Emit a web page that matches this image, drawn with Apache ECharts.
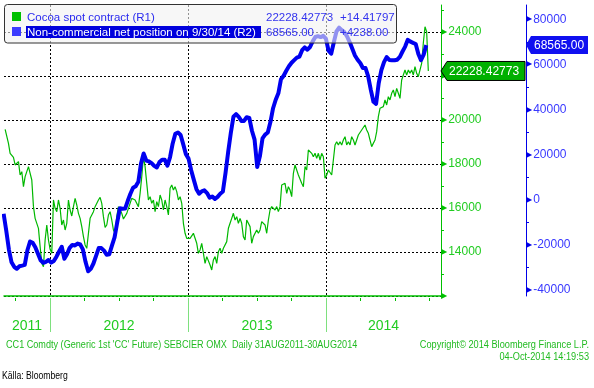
<!DOCTYPE html>
<html><head><meta charset="utf-8">
<script src="https://cdn.jsdelivr.net/npm/echarts@6/dist/echarts.min.js"></script>
<style>html,body{margin:0;padding:0;background:#fff}#c{width:594px;height:388px}</style>
</head><body><div id="c"></div>
<script>
// ---------- DATA ----------
const cocoaName = 'Cocoa spot contract (R1)';
const netName = 'Non-commercial net position on 9/30/14 (R2)';
const cocoaStart = '2011-09-03';
const cocoaStepDays = 4.415;
const cocoaValues = [
 19576, 19545, 18940, 18485, 18409, 18303, 17955, 18030, 18106, 17500,
 17652, 16970, 17424, 17652, 17879, 17955, 17273, 16061, 15531, 15531,
 15076, 14243, 13485, 13334, 14546, 15228, 14546, 14122, 13940, 16364,
 15985, 15834, 16364, 15985, 15228, 15455, 15000, 15303, 16364, 15909,
 15637, 16061, 16440, 16137, 15758, 15531, 15152, 14697, 14319, 14167,
 14849, 15531, 15531, 15834, 16061, 16061, 16364, 16485, 16212, 15607,
 15122, 15228, 15682, 15834, 15455, 15000, 14849, 15607, 16061, 16031,
 15758, 15500, 15576, 15758, 15985, 16212, 16440, 16515, 16364, 16288,
 16061, 16667, 17424, 18334, 17879, 17121, 16364, 16515, 16212, 16364,
 15834, 16288, 16061, 16591, 16364, 15909, 16364, 16061, 15682, 16894,
 17046, 16818, 16970, 16743, 16364,
 16516, 16213, 15304, 14850, 14622, 14547, 14622, 14698, 14850, 14925,
 14395, 13940, 14092, 14395, 13940, 13486, 13789, 13789, 13410, 13183,
 13638, 13789, 13486, 14016, 14168, 13940, 14168, 14092, 14471, 15077,
 15304, 15531, 15759, 15455, 15607, 15304, 15531, 15304, 14698, 14547,
 15455, 15531, 15153, 14395, 14698, 14774, 15001, 14850, 15001, 15380,
 15380, 15228, 14850, 15455, 15910, 16062, 16137, 15910, 16062, 15834,
 16062, 17046, 16970, 17122, 16667, 16970, 16819, 16516, 17577, 17955,
 17880, 17501, 17577, 17122, 16970, 17880, 17728, 18637, 18713, 18486,
 18334, 18486, 18258, 18486, 18182, 18486, 18334, 17349, 17501, 17728,
 17804, 17501, 18182, 18864, 19016, 18864, 19016, 18864, 19091, 19243,
 18864, 19016, 18864, 19243, 19091, 18864, 19091, 19319, 19395, 19546,
 19622, 19774, 19546, 19395, 19091, 18789, 18713, 19091, 19470, 20152,
 20531, 20607, 20607, 20910, 20683, 21061, 20910, 21213, 21364, 21061,
 21440, 21213, 20985, 21818, 22046, 22273, 22046, 22273, 22122, 22273,
 22046, 22425, 22122, 21970, 21970, 22570, 23500, 24241, 24014, 22228.42773
];
const netStart = '2011-08-30';
const netStepDays = 7;
const netValues = [
 -6209, -13749, -22086, -27719, -29715, -30602, -29493, -29182, -28828, -22397,
 -18494, -19071, -21022, -23949, -26832, -27941, -27497, -26699, -27852, -27142,
 -25236, -22929, -20845, -26167, -24171, -21288, -20002, -20268, -19425, -19824,
 -21998, -27497, -31666, -30602, -28251, -24836, -21421, -21421, -22530, -24393,
 -24171, -20312, -16676, -10067, -3770, -3947, -3903, -444, 2661, 5322,
 5987, 7983, 16099, 20534, 17385, 16986, 16232, 15035, 14325, 16720,
 17740, 17740, 15079, 18849, 24969, 29271, 29848, 28739, 24570, 20179,
 18228, 13128, 8826, 4701, 2661, 3725, 4213, 2971, 887, 1464,
 355, 1286, 2661, 3637, 11841, 21199, 29581, 36811, 37964, 36722,
 34948, 34948, 36589, 36278, 30602, 26654, 14500, 19248, 27187, 28872,
 29803, 34460, 40580, 44350, 47188, 53442, 54994, 57212, 59163, 60760,
 61913, 63022, 63465, 66303, 67545, 66525, 67722, 70206, 72158, 72513,
 72113, 72646, 71404, 66082, 64751, 69851, 74597, 76282, 75173, 74286,
 72424, 69896, 66969, 63953, 62090, 60627, 58409, 58409, 54684, 48696,
 43463, 42532, 51757, 57478, 61026, 63244, 62002, 61869, 61825, 62090,
 63376, 65727, 67900, 70916, 70073, 69541, 69053, 64618, 61869, 64327,
 68565
];
const cocoaLast = '22228.42773', cocoaChange = '+14.41797';
const netLast = '68565.00', netChange = '+4238.00';
const axisMinDate = '2011-08-31', axisMaxDate = '2014-11-01';
const cocoaAxis = {min: 12000, max: 25227, tick: 1000, label: 2000, labelMax: 24000};
const netAxis = {min: -40000, max: 80000, tick: 20000};
const footerLeft = "CC1 Comdty (Generic 1st 'CC' Future) SEBCIER OMX  Daily 31AUG2011-30AUG2014";
const footerRight1 = 'Copyright\u00A9 2014 Bloomberg Finance L.P.';
const footerRight2 = '04-Oct-2014 14:19:53';
const sourceText = 'K\u00E4lla: Bloomberg';

// ---------- BUILD ----------
const DAY = 86400000;
function ts(s){ const p = s.split('-').map(Number); return Date.UTC(p[0], p[1]-1, p[2]); }
const cocoaData = cocoaValues.map((v,i)=>[ts(cocoaStart) + i*cocoaStepDays*DAY, v]);
const netData = netValues.map((v,i)=>[ts(netStart) + i*netStepDays*DAY, v]);
const xMin = ts(axisMinDate), xMax = ts(axisMaxDate);
const months = [], monthTs = [];
{ let y = new Date(xMin).getUTCFullYear(), m = new Date(xMin).getUTCMonth() + 1;
  if (m > 11) { m = 0; y++; }
  while (Date.UTC(y, m, 1) <= xMax) { months.push(y + '-' + String(m+1).padStart(2,'0')); monthTs.push(Date.UTC(y,m,1)); m++; if (m > 11) { m = 0; y++; } } }
const labelIdx = [];
for (let y = new Date(xMin).getUTCFullYear(); y <= new Date(xMax).getUTCFullYear(); y++) {
  const s = Math.max(Date.UTC(y,0,1), xMin), e = Math.min(Date.UTC(y+1,0,1), xMax);
  const mid = (s+e)/2; let best = 0;
  monthTs.forEach((t,i)=>{ if (Math.abs(t-mid) < Math.abs(monthTs[best]-mid)) best = i; });
  labelIdx.push(best);
}
const isQuarter = (i, v) => (Number(v.slice(5)) - 1) % 3 === 0;
const isJan = (i, v) => v.slice(5) === '01';

const GREEN = '#00c000', GREEN_TXT = '#22cc22', BLUE = '#0000e8', BLUE_TXT = '#3838ff';
const FONT = '"Liberation Sans", Arial, sans-serif';
const OFFSET_BLUE = 85;

const chart = echarts.init(document.getElementById('c'), null, {renderer: 'canvas'});
const option = {
  animation: false,
  backgroundColor: '#fff',
  textStyle: {fontFamily: FONT},
  grid: [
    {left: 4, top: 5, width: 437, height: 291, containLabel: false, outerBoundsMode: 'none'},
    {left: 4, top: 19.3, width: 437, height: 270.7, containLabel: false, outerBoundsMode: 'none'}
  ],
  xAxis: [
    {type: 'time', gridIndex: 0, position: 'bottom', min: xMin, max: xMax, offset: 2,
     axisLine: {show: true, lineStyle: {color: GREEN, width: 1.5}},
     axisTick: {show: false}, axisLabel: {show: false}, splitLine: {show: false}},
    {type: 'category', gridIndex: 0, position: 'bottom', data: months, boundaryGap: false, offset: 2,
     axisLine: {show: false},
     axisTick: {show: true, interval: isQuarter, length: 3, lineStyle: {color: GREEN}},
     splitLine: {show: true, interval: isJan, lineStyle: {color: '#000', type: [2,2], width: 1}},
     axisLabel: {show: true, interval: (i)=>labelIdx.includes(i), formatter: v=>v.slice(0,4),
                 margin: 21, color: GREEN_TXT, fontSize: 14, fontFamily: FONT, hideOverlap: false}},
    {type: 'category', gridIndex: 0, position: 'bottom', data: months, boundaryGap: false, offset: 2,
     axisLine: {show: false},
     axisTick: {show: true, interval: isJan, length: 34, lineStyle: {color: '#7ee07e', width: 1}},
     axisLabel: {show: false}, splitLine: {show: false}},
    {type: 'time', gridIndex: 1, position: 'bottom', min: xMin, max: xMax, show: false}
  ],
  yAxis: [
    {type: 'value', gridIndex: 0, position: 'right', min: cocoaAxis.min, max: cocoaAxis.max, interval: cocoaAxis.tick,
     axisLine: {show: true, lineStyle: {color: GREEN, width: 1}},
     axisTick: {show: true, length: 3, lineStyle: {color: GREEN}},
     splitLine: {show: false},
     axisLabel: {show: true, margin: 0, showMaxLabel: false, hideOverlap: false,
       formatter: v => (v % cocoaAxis.label === 0 && v <= cocoaAxis.labelMax) ? (v > cocoaAxis.min ? '{t|\u25B6}{v|' + v + '}' : '{t|\u25B6}') : '',
       rich: {t: {fontSize: 8, color: GREEN, fontFamily: 'DejaVu Sans', padding: [0,1,0,0]},
              v: {fontSize: 12, color: GREEN_TXT, fontFamily: FONT}}}},
    {type: 'value', gridIndex: 1, position: 'right', offset: OFFSET_BLUE, min: netAxis.min, max: netAxis.max, interval: netAxis.tick,
     axisLine: {show: false},
     axisTick: {show: true, length: 3, lineStyle: {color: BLUE}},
     minorTick: {show: true, splitNumber: 2, length: 3, lineStyle: {color: BLUE}},
     splitLine: {show: false},
     axisLabel: {show: true, margin: 0, hideOverlap: false,
       formatter: v => '{t|\u25B6}{v|' + v + '}',
       rich: {t: {fontSize: 8, color: BLUE, fontFamily: 'DejaVu Sans', padding: [0,1,0,0]},
              v: {fontSize: 12, color: BLUE_TXT, fontFamily: FONT}}}},
    {type: 'value', gridIndex: 0, min: cocoaAxis.min, max: cocoaAxis.max, interval: cocoaAxis.label, position: 'right',
     axisLine: {show: false}, axisTick: {show: false}, axisLabel: {show: false},
     splitLine: {show: true, showMaxLine: false, lineStyle: {color: '#000', type: [2,2], width: 1}}},
    {type: 'value', gridIndex: 0, position: 'right', offset: OFFSET_BLUE, min: 0, max: 1,
     axisLine: {show: true, lineStyle: {color: BLUE, width: 1}},
     axisTick: {show: false}, axisLabel: {show: false}, splitLine: {show: false}}
  ],
  series: [
    {name: cocoaName, type: 'line', xAxisIndex: 0, yAxisIndex: 0, data: cocoaData, showSymbol: false,
     lineStyle: {color: '#00b800', width: 1.2}, z: 3},
    {name: netName, type: 'line', xAxisIndex: 3, yAxisIndex: 1, data: netData, showSymbol: false,
     lineStyle: {color: '#0000f0', width: 4, join: 'round'}, z: 4}
  ]
};
chart.setOption(option);

// tags + legend + footer
const gx = chart.convertToPixel({xAxisIndex: 0}, xMax);
const gy = chart.convertToPixel({yAxisIndex: 0}, cocoaValues[cocoaValues.length-1]);
const bx = gx + OFFSET_BLUE;
const by = chart.convertToPixel({yAxisIndex: 1}, netValues[netValues.length-1]);
const lf = '11.5px ' + FONT;
chart.setOption({graphic: [
  {type: 'rect', z: 100, shape: {x: 4.5, y: 4.5, width: 392, height: 38.5, r: 3},
   style: {fill: 'rgba(242,242,242,0.6)', stroke: '#333', lineWidth: 1}},
  {type: 'rect', z: 101, shape: {x: 12, y: 12, width: 9, height: 9}, style: {fill: GREEN}},
  {type: 'rect', z: 101, shape: {x: 12, y: 27, width: 9, height: 9}, style: {fill: '#3c3cff'}},
  {type: 'text', z: 101, x: 27, y: 17.5, style: {text: cocoaName, font: lf, fill: '#2b2bef', verticalAlign: 'middle'}},
  {type: 'rect', z: 101, shape: {x: 26, y: 26, width: 235, height: 12}, style: {fill: '#0000dd'}},
  {type: 'text', z: 102, x: 27, y: 32.5, style: {text: netName, font: lf, fill: '#fff', verticalAlign: 'middle'}},
  {type: 'text', z: 101, x: 266, y: 17.5, style: {text: cocoaLast, font: lf, fill: '#3333ee', verticalAlign: 'middle'}},
  {type: 'text', z: 101, x: 340, y: 17.5, style: {text: cocoaChange, font: lf, fill: '#3333ee', verticalAlign: 'middle'}},
  {type: 'text', z: 101, x: 266, y: 32.5, style: {text: netLast, font: lf, fill: '#3333ee', verticalAlign: 'middle'}},
  {type: 'text', z: 101, x: 340, y: 32.5, style: {text: netChange, font: lf, fill: '#3333ee', verticalAlign: 'middle'}},
  {type: 'polygon', z: 110, shape: {points: [[gx, gy], [gx+6, gy-9.5], [gx+84, gy-9.5], [gx+84, gy+9.5], [gx+6, gy+9.5]]},
   style: {fill: '#00b000', stroke: '#000', lineWidth: 1}},
  {type: 'text', z: 111, x: gx+8, y: gy+0.5, style: {text: cocoaLast, font: '12px ' + FONT, fill: '#fff', verticalAlign: 'middle'}},
  {type: 'polygon', z: 110, shape: {points: [[bx, by], [bx+5, by-9], [bx+62, by-9], [bx+62, by+9], [bx+5, by+9]]},
   style: {fill: '#1010f0'}},
  {type: 'text', z: 111, x: bx+8, y: by+0.5, style: {text: netLast, font: '12px ' + FONT, fill: '#fff', verticalAlign: 'middle'}},
  {type: 'text', x: 6, y: 345, scaleX: 0.91, style: {text: footerLeft, font: '10px ' + FONT, fill: '#22bb22', verticalAlign: 'middle'}},
  {type: 'text', x: 589, y: 345, scaleX: 0.92, style: {text: footerRight1, font: '10px ' + FONT, fill: '#22bb22', align: 'right', verticalAlign: 'middle'}},
  {type: 'text', x: 589, y: 357, scaleX: 0.92, style: {text: footerRight2, font: '10px ' + FONT, fill: '#22bb22', align: 'right', verticalAlign: 'middle'}},
  {type: 'text', x: 2, y: 376, scaleX: 0.75, style: {text: sourceText, font: '11.5px ' + FONT, fill: '#000', verticalAlign: 'middle'}}
]});
</script>
</body></html>
